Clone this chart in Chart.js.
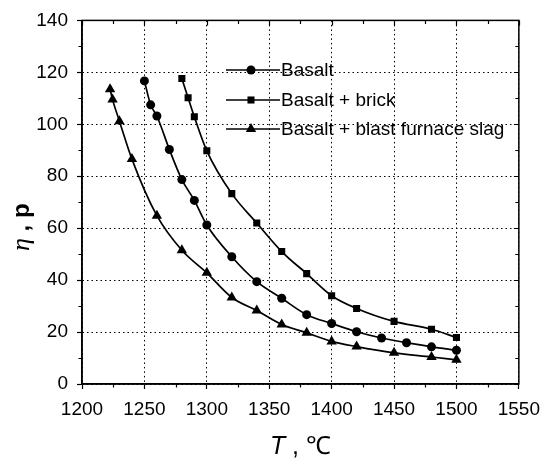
<!DOCTYPE html>
<html>
<head>
<meta charset="utf-8">
<script src="https://cdn.jsdelivr.net/npm/chart.js@4"></script>
<style>
  html, body { margin: 0; padding: 0; background: #fff; }
  #wrap { width: 549px; height: 460px; position: relative; }
</style>
</head>
<body>
<div id="wrap"><canvas id="c" width="549" height="460"></canvas></div>
<script>
// ---- data ----
const seriesNames = ["Basalt", "Basalt + brick", "Basalt + blast furnace slag"];
const basaltT   = [1250, 1255, 1260, 1270, 1280, 1290, 1300, 1320, 1340, 1360, 1380, 1400, 1420, 1440, 1460, 1480, 1500];
const basaltEta = [116.7, 107.5, 103.2, 90.3, 78.7, 70.7, 61.2, 49.0, 39.4, 33.0, 26.7, 23.3, 20.1, 17.7, 15.9, 14.3, 13.0];
const brickT    = [1280, 1285, 1290, 1300, 1320, 1340, 1360, 1380, 1400, 1420, 1450, 1480, 1500];
const brickEta  = [117.6, 110.2, 102.9, 89.8, 73.3, 62.0, 51.0, 42.5, 34.0, 29.1, 24.1, 21.1, 17.9];
const slagT     = [1222.5, 1224.5, 1230, 1240, 1260, 1280, 1300, 1320, 1340, 1360, 1380, 1400, 1420, 1450, 1480, 1500];
const slagEta   = [113.5, 109.5, 101.2, 86.6, 64.8, 51.5, 42.8, 33.3, 28.3, 22.9, 19.7, 16.4, 14.4, 12.0, 10.4, 9.3];
const xTicks = [1200, 1250, 1300, 1350, 1400, 1450, 1500, 1550];
const yTicks = [0, 20, 40, 60, 80, 100, 120, 140];
const xTitle = ["T", " , ℃"];
const yTitle = ["η", " , p"];

const FONT = '"Liberation Sans", Arial, sans-serif';

function pts(xs, ys) { return xs.map((x, i) => ({ x: x, y: ys[i] })); }

const styles = [
  { pointStyle: 'circle', radius: 4.5 },
  { pointStyle: 'rect', radius: 5 },
  { pointStyle: 'triangle', radius: 6 }
];

const datasets = [
  pts(basaltT, basaltEta), pts(brickT, brickEta), pts(slagT, slagEta)
].map((d, i) => ({
  label: seriesNames[i],
  data: d,
  borderColor: '#000',
  backgroundColor: '#000',
  borderWidth: 1.7,
  pointStyle: styles[i].pointStyle,
  pointRadius: styles[i].radius,
  pointHoverRadius: styles[i].radius,
  pointBorderWidth: 0,
  cubicInterpolationMode: 'monotone',
  fill: false
}));

// plugin: frame, mirrored and minor ticks, titles, legend
const decor = {
  id: 'decor',
  afterDraw(chart) {
    const ctx = chart.ctx;
    const a = chart.chartArea;
    const xs = chart.scales.x, ys = chart.scales.y;
    ctx.save();
    ctx.setLineDash([]);
    ctx.strokeStyle = '#000';
    ctx.lineWidth = 1.5;
    ctx.strokeRect(a.left, a.top, a.right - a.left, a.bottom - a.top);
    ctx.lineWidth = 1.2;
    ctx.beginPath();
    for (let v = xTicks[0]; v <= xTicks[xTicks.length - 1]; v += 25) {
      const px = Math.round(xs.getPixelForValue(v)) + 0.5;
      const major = (v % 50 === 0);
      const L = major ? 5 : 3.5;
      if (!major) { ctx.moveTo(px, a.bottom); ctx.lineTo(px, a.bottom + L); }
      ctx.moveTo(px, a.top); ctx.lineTo(px, a.top + L);
    }
    for (let v = yTicks[0]; v <= yTicks[yTicks.length - 1]; v += 10) {
      const py = Math.round(ys.getPixelForValue(v)) + 0.5;
      const major = (v % 20 === 0);
      const L = major ? 5 : 3.5;
      if (!major) { ctx.moveTo(a.left, py); ctx.lineTo(a.left - L, py); }
      ctx.moveTo(a.right, py); ctx.lineTo(a.right - L, py);
    }
    ctx.stroke();

    // axis titles
    ctx.fillStyle = '#000';
    ctx.textBaseline = 'middle';
    const tf1 = 'italic 25px "Liberation Sans", Arial, sans-serif';
    const tf2 = '25px "Liberation Sans", Arial, sans-serif';
    ctx.font = tf1; const w1 = ctx.measureText(xTitle[0]).width;
    ctx.font = tf2; const w2 = ctx.measureText(xTitle[1]).width;
    const cx = (a.left + a.right) / 2;
    let sx = cx - (w1 + w2) / 2;
    ctx.textAlign = 'left';
    ctx.font = tf1; ctx.fillText(xTitle[0], sx, 447);
    ctx.font = tf2; ctx.fillText(xTitle[1], sx + w1, 447);

    ctx.save();
    ctx.translate(22, (a.top + a.bottom) / 2 + 25);
    ctx.rotate(-Math.PI / 2);
    const yf1 = 'italic 26px "Liberation Serif", serif';
    const yf2 = 'bold 24px "Liberation Sans", Arial, sans-serif';
    ctx.font = yf1; const v1 = ctx.measureText(yTitle[0]).width;
    ctx.font = yf2; const v2 = ctx.measureText(yTitle[1]).width;
    let sy = -(v1 + v2) / 2;
    ctx.font = yf1; ctx.fillText(yTitle[0], sy, 0);
    ctx.font = yf2; ctx.fillText(yTitle[1], sy + v1, 0);
    ctx.restore();

    // legend
    const rows = [70, 100, 129];
    ctx.font = '19px ' + FONT;
    ctx.textAlign = 'left';
    chart.data.datasets.forEach((ds, i) => {
      const y = rows[i];
      ctx.lineWidth = 1.7;
      ctx.beginPath(); ctx.moveTo(226, y); ctx.lineTo(280, y); ctx.stroke();
      Chart.helpers.drawPoint(ctx, { pointStyle: ds.pointStyle, radius: ds.pointRadius, borderWidth: 0 }, 251, y);
      ctx.fillText(ds.label, 281, y + 1);
    });
    ctx.restore();
  }
};

const tickFmt = (v) => String(v);

new Chart(document.getElementById('c'), {
  type: 'line',
  data: { datasets: datasets },
  options: {
    responsive: false,
    animation: false,
    layout: { padding: { left: 0, right: 25, top: 18, bottom: 0 } },
    plugins: { legend: { display: false }, tooltip: { enabled: false } },
    scales: {
      x: {
        type: 'linear',
        min: xTicks[0], max: xTicks[xTicks.length - 1],
        afterBuildTicks: (s) => { s.ticks = xTicks.map(v => ({ value: v })); },
        afterFit: (s) => { s.height = 76; },
        ticks: { color: '#000', font: { family: FONT, size: 19 }, padding: 9, maxRotation: 0, autoSkip: false, callback: tickFmt },
        grid: { color: '#000', lineWidth: 1, drawTicks: true, tickLength: 5,
                tickColor: '#000', tickWidth: 1.2, tickBorderDash: [] },
        border: { display: true, color: '#000', width: 1.5, dash: [1.5, 3] }
      },
      y: {
        type: 'linear',
        min: yTicks[0], max: yTicks[yTicks.length - 1],
        afterBuildTicks: (s) => { s.ticks = yTicks.map(v => ({ value: v })); },
        afterFit: (s) => { s.width = 82; },
        ticks: { color: '#000', font: { family: FONT, size: 19 }, padding: 9, autoSkip: false, callback: tickFmt },
        grid: { color: '#000', lineWidth: 1, drawTicks: true, tickLength: 5,
                tickColor: '#000', tickWidth: 1.2, tickBorderDash: [] },
        border: { display: true, color: '#000', width: 1.5, dash: [1.5, 3] }
      }
    }
  },
  plugins: [decor]
});
</script>
</body>
</html>
